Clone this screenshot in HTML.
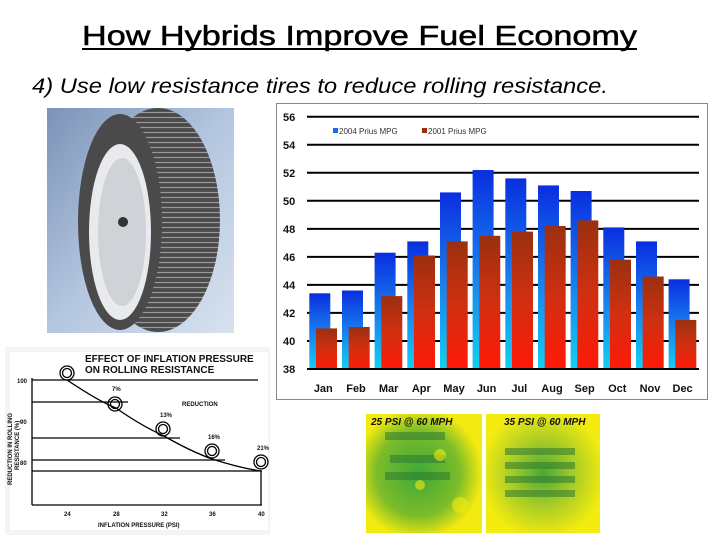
<!DOCTYPE html>
<html><head><meta charset="utf-8"><style>
body{margin:0;background:#fff;width:720px;height:540px;overflow:hidden}
svg{display:block}
text{font-family:"Liberation Sans",sans-serif}
</style></head><body>
<svg width="720" height="540" viewBox="0 0 720 540">
<defs>
<linearGradient id="bl" x1="0" y1="0" x2="0" y2="1"><stop offset="0" stop-color="#0a2ee0"/><stop offset="0.6" stop-color="#1a8cf0"/><stop offset="1" stop-color="#12d0f0"/></linearGradient>
<linearGradient id="rd" x1="0" y1="0" x2="0" y2="1"><stop offset="0" stop-color="#9a3010"/><stop offset="0.5" stop-color="#d03010"/><stop offset="1" stop-color="#ff1a08"/></linearGradient>
<linearGradient id="sky" x1="0" y1="0" x2="1" y2="1"><stop offset="0" stop-color="#7c93b8"/><stop offset="0.5" stop-color="#b4c6e0"/><stop offset="1" stop-color="#d8e2ef"/></linearGradient>
<radialGradient id="yg1" cx="0.45" cy="0.5" r="0.55"><stop offset="0" stop-color="#3ea838"/><stop offset="0.65" stop-color="#7cbc2a"/><stop offset="1" stop-color="#f2ea10"/></radialGradient>
<radialGradient id="yg2" cx="0.5" cy="0.5" r="0.55"><stop offset="0" stop-color="#4aa838"/><stop offset="0.5" stop-color="#a8cc26"/><stop offset="1" stop-color="#f4ec10"/></radialGradient>
<pattern id="tread" width="6" height="5" patternUnits="userSpaceOnUse"><rect width="6" height="5" fill="#4a4a4a"/><path d="M0 2.5h6" stroke="#9a9a9a" stroke-width="1.2"/></pattern>
</defs>
<text x="82" y="45" font-size="28" textLength="555" lengthAdjust="spacingAndGlyphs" stroke="#000" stroke-width="0.5">How Hybrids Improve Fuel Economy</text>
<rect x="82" y="48" width="555" height="2" fill="#000"/>
<text x="32" y="93" font-size="21" font-style="italic" textLength="576" lengthAdjust="spacingAndGlyphs">4) Use low resistance tires to reduce rolling resistance.</text>

<rect x="47" y="108" width="187" height="225" fill="url(#sky)"/>
<ellipse cx="158" cy="220" rx="62" ry="112" fill="url(#tread)"/>
<ellipse cx="120" cy="222" rx="42" ry="108" fill="#4a4a4a"/>
<ellipse cx="120" cy="232" rx="31" ry="88" fill="#e8eaee"/>
<ellipse cx="122" cy="232" rx="24" ry="74" fill="#cfd3d8"/>
<circle cx="123" cy="222" r="5" fill="#333"/>

<rect x="276.5" y="103.5" width="431" height="296" fill="#fff" stroke="#888"/>
<g stroke="#000" stroke-width="2">
<line x1="307" x2="699" y1="341" y2="341"/><line x1="307" x2="699" y1="312.9" y2="312.9"/>
<line x1="307" x2="699" y1="284.9" y2="284.9"/><line x1="307" x2="699" y1="256.9" y2="256.9"/>
<line x1="307" x2="699" y1="228.9" y2="228.9"/><line x1="307" x2="699" y1="200.8" y2="200.8"/>
<line x1="307" x2="699" y1="172.8" y2="172.8"/><line x1="307" x2="699" y1="144.8" y2="144.8"/>
<line x1="307" x2="699" y1="116.7" y2="116.7"/>
</g>
<g fill="url(#bl)">
<rect x="309.3" y="293.3" width="21" height="75.7"/><rect x="342" y="290.5" width="21" height="78.5"/>
<rect x="374.6" y="252.7" width="21" height="116.3"/><rect x="407.3" y="241.4" width="21" height="127.6"/>
<rect x="440" y="192.4" width="21" height="176.6"/><rect x="472.6" y="170" width="21" height="199"/>
<rect x="505.3" y="178.4" width="21" height="190.6"/><rect x="538" y="185.4" width="21" height="183.6"/>
<rect x="570.6" y="191" width="21" height="178"/><rect x="603.3" y="227.4" width="21" height="141.6"/>
<rect x="636" y="241.4" width="21" height="127.6"/><rect x="668.6" y="279.3" width="21" height="89.7"/>
</g>
<g fill="url(#rd)">
<rect x="316" y="328.4" width="21" height="40.6"/><rect x="348.7" y="327" width="21" height="42"/>
<rect x="381.3" y="296.1" width="21" height="72.9"/><rect x="414" y="255.5" width="21" height="113.5"/>
<rect x="446.7" y="241.4" width="21" height="127.6"/><rect x="479.3" y="235.8" width="21" height="133.2"/>
<rect x="512" y="231.6" width="21" height="137.4"/><rect x="544.7" y="226" width="21" height="143"/>
<rect x="577.3" y="220.4" width="21" height="148.6"/><rect x="610" y="259.7" width="21" height="109.3"/>
<rect x="642.7" y="276.5" width="21" height="92.5"/><rect x="675.3" y="319.9" width="21" height="49.1"/>
</g>
<line x1="307" x2="699" y1="369" y2="369" stroke="#000" stroke-width="2"/>
<g font-size="11" font-weight="bold" fill="#111">
<text x="283" y="373">38</text><text x="283" y="345">40</text><text x="283" y="317">42</text>
<text x="283" y="289">44</text><text x="283" y="261">46</text><text x="283" y="233">48</text>
<text x="283" y="205">50</text><text x="283" y="177">52</text><text x="283" y="149">54</text><text x="283" y="121">56</text>
</g>
<g font-size="11" font-weight="bold" fill="#111" text-anchor="middle">
<text x="323.3" y="392">Jan</text><text x="356" y="392">Feb</text><text x="388.6" y="392">Mar</text>
<text x="421.3" y="392">Apr</text><text x="454" y="392">May</text><text x="486.6" y="392">Jun</text>
<text x="519.3" y="392">Jul</text><text x="552" y="392">Aug</text><text x="584.6" y="392">Sep</text>
<text x="617.3" y="392">Oct</text><text x="650" y="392">Nov</text><text x="682.6" y="392">Dec</text>
</g>
<rect x="333" y="128" width="5" height="5" fill="#1a6ae8"/>
<text x="339" y="134" font-size="8" fill="#333">2004 Prius MPG</text>
<rect x="422" y="128" width="5" height="5" fill="#9a3010"/>
<text x="428" y="134" font-size="8" fill="#333">2001 Prius MPG</text>

<rect x="5" y="347" width="265" height="188" fill="#f4f4f4"/>
<rect x="10" y="352" width="258" height="178" fill="#fff"/>
<g stroke="#000" stroke-width="1.3" fill="none">
<line x1="32" y1="378" x2="32" y2="505"/><line x1="32" y1="505" x2="262" y2="505"/>
<line x1="32" y1="380" x2="258" y2="380"/><line x1="32" y1="402" x2="128" y2="402"/>
<line x1="32" y1="438" x2="180" y2="438"/><line x1="32" y1="460" x2="225" y2="460"/>
<line x1="32" y1="471" x2="262" y2="471"/><line x1="261" y1="471" x2="261" y2="505"/>
<path d="M67 380 Q100 402 116 408 Q140 425 164 436 Q190 451 212 459 Q240 468 261 471"/>
<circle cx="67" cy="373" r="7"/><circle cx="67" cy="373" r="4.5"/>
<circle cx="115" cy="404" r="7"/><circle cx="115" cy="404" r="4.5"/>
<circle cx="163" cy="429" r="7"/><circle cx="163" cy="429" r="4.5"/>
<circle cx="212" cy="451" r="7"/><circle cx="212" cy="451" r="4.5"/>
<circle cx="261" cy="462" r="7"/><circle cx="261" cy="462" r="4.5"/>
</g>
<g font-weight="bold" fill="#111">
<text x="85" y="362" font-size="10">EFFECT OF INFLATION PRESSURE</text>
<text x="85" y="373" font-size="10">ON ROLLING RESISTANCE</text>
<g font-size="6">
<text x="112" y="391">7%</text><text x="160" y="417">13%</text><text x="208" y="439">16%</text><text x="257" y="450">21%</text>
<text x="182" y="406">REDUCTION</text>
<text x="17" y="383">100</text><text x="20" y="424">90</text><text x="20" y="465">80</text>
<text x="64" y="516">24</text><text x="113" y="516">28</text><text x="161" y="516">32</text><text x="209" y="516">36</text><text x="258" y="516">40</text>
<text x="98" y="527">INFLATION PRESSURE (PSI)</text>
<text transform="translate(12 485) rotate(-90)">REDUCTION IN ROLLING</text>
<text transform="translate(19 470) rotate(-90)">RESISTANCE (%)</text>
</g></g>

<rect x="366" y="414" width="116" height="119" fill="url(#yg1)"/>
<rect x="486" y="414" width="114" height="119" fill="url(#yg2)"/>
<g fill="#2e7a30" opacity="0.55">
<rect x="385" y="432" width="60" height="8"/><rect x="390" y="455" width="55" height="8"/><rect x="385" y="472" width="65" height="8"/>
<rect x="505" y="448" width="70" height="7"/><rect x="505" y="462" width="70" height="7"/><rect x="505" y="476" width="70" height="7"/><rect x="505" y="490" width="70" height="7"/>
</g>
<g fill="#f2ea10" opacity="0.6">
<circle cx="440" cy="455" r="6"/><circle cx="420" cy="485" r="5"/><circle cx="460" cy="505" r="8"/>
</g>
<text x="371" y="425" font-size="10" font-weight="bold" font-style="italic" fill="#111">25 PSI @ 60 MPH</text>
<text x="504" y="425" font-size="10" font-weight="bold" font-style="italic" fill="#111">35 PSI @ 60 MPH</text>
</svg>
</body></html>
